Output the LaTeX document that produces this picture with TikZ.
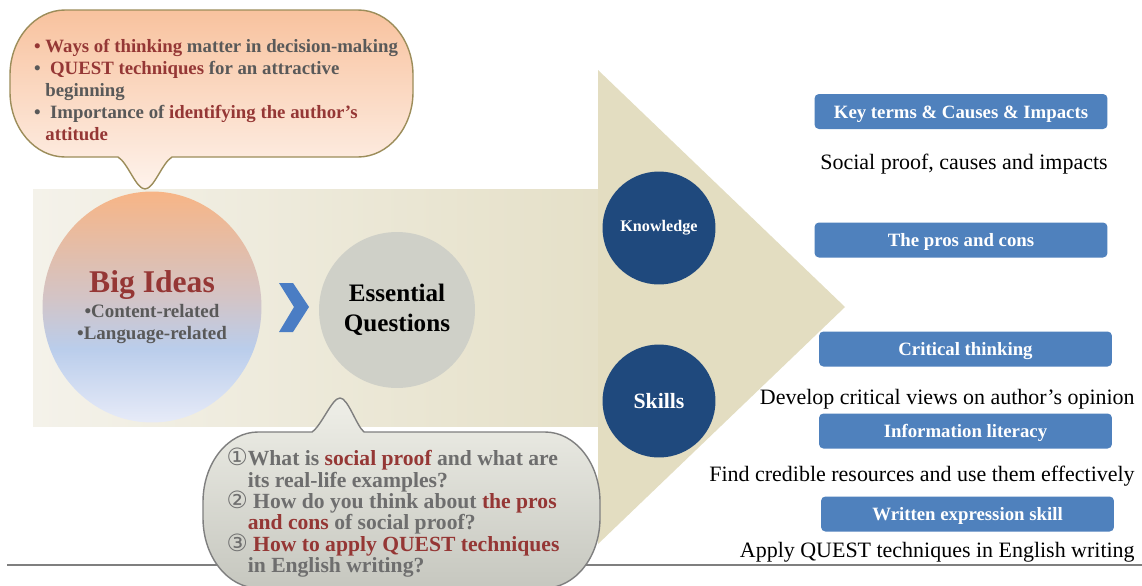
\documentclass[tikz,border=0pt]{standalone}
\usepackage{fontspec}
\setmainfont{Liberation Serif}
\newfontfamily\circfont{DejaVu Sans}
\usepackage{xcolor}
\usepackage{tikz}
\usetikzlibrary{shapes.geometric}
\definecolor{ideared}{HTML}{953735}
\definecolor{txtgray}{HTML}{595959}
\definecolor{qgray}{HTML}{6E6E6E}
\definecolor{knowblue}{HTML}{1F497D}
\definecolor{tagblue}{HTML}{4F81BD}
\definecolor{chevblue}{HTML}{4A7DC4}
\definecolor{sandlight}{HTML}{F4F2EA}
\definecolor{sandmid}{HTML}{E5E0C8}
\definecolor{sand}{HTML}{E3DDC1}
\definecolor{peachtop}{HTML}{F8C29E}
\definecolor{peachbot}{HTML}{FEF3EC}
\definecolor{peachline}{HTML}{9C8D5A}
\definecolor{qtop}{HTML}{EFEFE8}
\definecolor{qbot}{HTML}{C6C7BF}
\definecolor{qline}{HTML}{7F7F7F}
\definecolor{eqgray}{HTML}{CFD0C8}
\definecolor{bigtop}{HTML}{F7B586}
\definecolor{bigmid}{HTML}{D3C4C6}
\definecolor{bigblue}{HTML}{BACDEB}
\definecolor{bigbot}{HTML}{E7EBF8}
\pgfdeclareverticalshading{bigidea}{100bp}{color(0bp)=(bigbot); color(25bp)=(bigbot); color(41bp)=(bigblue); color(52bp)=(bigmid); color(75bp)=(bigtop); color(100bp)=(bigtop)}
\newcommand{\redtxt}[1]{\textcolor{ideared}{#1}}
\newcommand{\circnum}[1]{\smash{\circfont\mdseries\fontsize{13.5}{12}\selectfont #1}}
\tikzset{
  shaftfill/.style={left color=sandlight, right color=sandmid},
  headfill/.style={fill=sand},
  floorline/.style={draw=qline, line width=0.75pt},
  topbub/.style={draw=peachline, line width=0.8pt, top color=peachtop, bottom color=peachbot},
  qbub/.style={draw=qline, line width=0.8pt, top color=qtop, bottom color=qbot},
  bubble/.style={circle, inner sep=0pt, minimum size=2.26cm, fill=knowblue, text=white},
  tagbox/.style={rectangle, rounded corners=2.5pt, fill=tagblue, text=white, minimum width=5.86cm,
    minimum height=0.7cm, inner sep=0pt, text height=8.5pt, text depth=1pt,
    font=\fontsize{10.7}{12}\selectfont\bfseries},
  desc/.style={anchor=east, inner sep=0pt, font=\fontsize{12.5}{14}\selectfont},
  every node/.style={text=black}
}

\begin{document}
\begin{tikzpicture}[x=0.02cm, y=-0.02cm]
  \path[use as bounding box, fill=white] (0,0) rectangle (1142,585);

  % big arrow
  \coordinate (S1) at (33,189);
  \coordinate (S2) at (598,426);
  \coordinate (H1) at (598,70);
  \coordinate (Tip) at (845,307);
  \coordinate (H2) at (598,544);
  \shade[shaftfill] (S1) rectangle (S2);
  \fill[headfill] (H1) -- (Tip) -- (H2) -- cycle;

  \coordinate (F1) at (7,565);
  \coordinate (F2) at (1142,565);
  \draw[floorline] (F1) -- (F2);

  % speech bubble above Big Ideas
  \path[topbub] (172,157) -- (358,157) .. controls (388,157) and (413,128) .. (413,92)
    -- (413,75) .. controls (413,39) and (388,10) .. (358,10) -- (65,10)
    .. controls (35,10) and (10,39) .. (10,75) -- (10,92)
    .. controls (10,128) and (35,157) .. (65,157) -- (118,157)
    .. controls (128,163) and (136,189) .. (145,189)
    .. controls (154,189) and (162,163) .. (172,157) -- cycle;
  \node[align=left, inner sep=0pt, text=txtgray, font=\fontsize{10.7}{12.5}\selectfont\bfseries] (Tn) at (216,90)
    {\redtxt{\textbullet\ Ways of thinking} matter in decision-making\\
     \textbullet\ \ \redtxt{QUEST techniques} for an attractive\\
     \phantom{\textbullet\ }beginning\\
     \textbullet\ \ Importance of \redtxt{identifying the author’s}\\
     \phantom{\textbullet\ }\redtxt{attitude}};

  % speech bubble below Essential Questions
  \path[qbub] (364,432) -- (545,432) .. controls (575,432) and (600,463) .. (600,502)
    -- (600,518) .. controls (600,557) and (575,588) .. (545,588) -- (258,588)
    .. controls (228,588) and (203,557) .. (203,518) -- (203,502)
    .. controls (203,463) and (228,432) .. (258,432) -- (312,432)
    .. controls (322,425) and (332,398) .. (340,398)
    .. controls (348,398) and (356,425) .. (364,432) -- cycle;
  \node[align=left, inner sep=0pt, text=qgray, font=\fontsize{12.3}{12.2}\selectfont\bfseries] (Qn) at (393,514)
    {\circnum{①}What is \redtxt{social proof} and what are\\
     \hphantom{\circnum{①}}its real-life examples?\\
     \circnum{②} How do you think about \redtxt{the pros}\\
     \hphantom{\circnum{①}}\redtxt{and cons} of social proof?\\
     \circnum{③} \redtxt{How to apply QUEST techniques}\\
     \hphantom{\circnum{①}}in English writing?};

  \node[ellipse, shading=bigidea, minimum width=4.38cm, minimum height=4.62cm, inner sep=0pt,
    align=center, text=txtgray, font=\fontsize{10.8}{12.5}\selectfont\bfseries] (BI) at (152,307)
    {{\fontsize{18}{14}\selectfont\color{ideared}Big Ideas}\\[1.8pt]
     \textbullet Content-related\\
     \textbullet Language-related};

  \fill[chevblue] (279,283) -- (293,283) -- (309,307) -- (293,332) -- (279,332) -- (294,307) -- cycle;

  \node[circle, fill=eqgray, minimum size=3.12cm, inner sep=0pt, align=center,
    font=\fontsize{14.3}{17}\selectfont\bfseries] (EQ) at (397,310) {Essential\\Questions};

  \node[bubble, font=\fontsize{9.2}{11}\selectfont\bfseries, text=white] (Kn) at (659,228) {Knowledge};
  \node[bubble, font=\fontsize{12.4}{14}\selectfont\bfseries, text=white] (Sk) at (659,401) {Skills};

  % right column
  \node[tagbox, text=white] (T1) at (961,111.5) {Key terms \& Causes \& Impacts};
  \node[desc] (D1) at (1108,164) {Social proof, causes and impacts};
  \node[tagbox, text=white] (T2) at (961,240) {The pros and cons};
  \node[tagbox, text=white] (T3) at (965.5,349) {Critical thinking};
  \node[desc] (D3) at (1135,399) {Develop critical views on author’s opinion};
  \node[tagbox, text=white] (T4) at (965.5,431) {Information literacy};
  \node[desc] (D4) at (1135,476) {Find credible resources and use them effectively};
  \node[tagbox, text=white] (T5) at (967.5,514) {Written expression skill};
  \node[desc] (D5) at (1135,552) {Apply QUEST techniques in English writing};
\end{tikzpicture}
\end{document}
